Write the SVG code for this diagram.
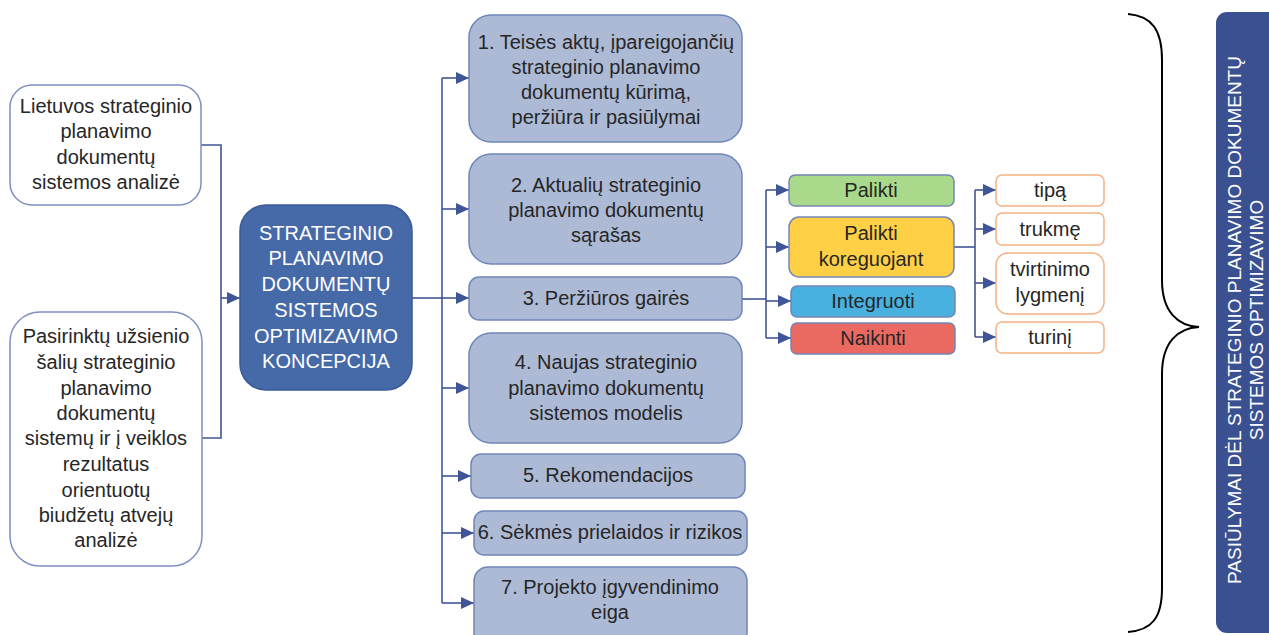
<svg xmlns="http://www.w3.org/2000/svg" width="1269" height="635" viewBox="0 0 1269 635">
<defs>
<marker id="ah" markerUnits="userSpaceOnUse" markerWidth="14" markerHeight="12" refX="13" refY="6" orient="auto">
<path d="M0,0 L13,6 L0,12 z" fill="#3f5597"/>
</marker>
<style>
text{font-family:"Liberation Sans",Arial,sans-serif;font-size:20px;fill:#262626;text-anchor:middle}
.src{fill:#fff;stroke:#7f8fc2;stroke-width:1.5}
.ctr{fill:#4669a8;stroke:#3b5b9a;stroke-width:1.5}
.ctr-t{fill:#fff}
.main{fill:#adbad6;stroke:#6f86b8;stroke-width:1.5}
.sm{stroke:#7486b5;stroke-width:1.5}
.or{fill:#fff;stroke:#f4b183;stroke-width:1.5}
.ln{fill:none;stroke:#3f5597;stroke-width:1.6}
.ar{fill:none;stroke:#3f5597;stroke-width:1.6;marker-end:url(#ah)}
.bt{fill:#fff;font-size:19px}
</style>
</defs>
<rect width="1269" height="635" fill="#fff"/>

<g id="connectors">
<path class="ln" d="M201,145 H221 V438 H202"/>
<path class="ar" d="M221,298 H240"/>
<path class="ln" d="M412,298 H442"/>
<path class="ln" d="M442,78 V603"/>
<path class="ar" d="M442,78 H469"/>
<path class="ar" d="M442,209 H469"/>
<path class="ar" d="M442,298 H469"/>
<path class="ar" d="M442,388 H469"/>
<path class="ar" d="M442,476 H471"/>
<path class="ar" d="M442,533 H474"/>
<path class="ar" d="M442,603 H474"/>
<path class="ln" d="M742,299 H766"/>
<path class="ln" d="M766,190 V338"/>
<path class="ar" d="M766,190 H789"/>
<path class="ar" d="M766,247 H789"/>
<path class="ar" d="M766,301 H791"/>
<path class="ar" d="M766,338 H791"/>
<path class="ln" d="M954,247 H975"/>
<path class="ln" d="M975,190 V337"/>
<path class="ar" d="M975,190 H996"/>
<path class="ar" d="M975,229 H996"/>
<path class="ar" d="M975,283 H996"/>
<path class="ar" d="M975,337 H996"/>
</g>

<g id="src1">
<rect class="src" x="10" y="85" width="191" height="120" rx="22"/>
<text x="106" y="113">Lietuvos strateginio</text>
<text x="106" y="138">planavimo</text>
<text x="106" y="164">dokumentų</text>
<text x="106" y="189">sistemos analizė</text>
</g>

<g id="src2">
<rect class="src" x="10" y="312" width="192" height="254" rx="30"/>
<text x="106" y="343">Pasirinktų užsienio</text>
<text x="106" y="369">šalių strateginio</text>
<text x="106" y="395">planavimo</text>
<text x="106" y="420">dokumentų</text>
<text x="106" y="445">sistemų ir į veiklos</text>
<text x="106" y="471">rezultatus</text>
<text x="106" y="497">orientuotų</text>
<text x="106" y="522">biudžetų atvejų</text>
<text x="106" y="547">analizė</text>
</g>

<g id="center">
<rect class="ctr" x="240" y="205" width="172" height="185" rx="26"/>
<text class="ctr-t" x="326" y="240">STRATEGINIO</text>
<text class="ctr-t" x="326" y="265">PLANAVIMO</text>
<text class="ctr-t" x="326" y="291">DOKUMENTŲ</text>
<text class="ctr-t" x="326" y="317">SISTEMOS</text>
<text class="ctr-t" x="326" y="343">OPTIMIZAVIMO</text>
<text class="ctr-t" x="326" y="368">KONCEPCIJA</text>
</g>

<g id="n1">
<rect class="main" x="469" y="15" width="273" height="127" rx="22"/>
<text x="606" y="49">1. Teisės aktų, įpareigojančių</text>
<text x="606" y="74">strateginio planavimo</text>
<text x="606" y="99">dokumentų kūrimą,</text>
<text x="606" y="124">peržiūra ir pasiūlymai</text>
</g>
<g id="n2">
<rect class="main" x="469" y="154" width="273" height="110" rx="22"/>
<text x="606" y="192">2. Aktualių strateginio</text>
<text x="606" y="217">planavimo dokumentų</text>
<text x="606" y="242">sąrašas</text>
</g>
<g id="n3">
<rect class="main" x="469" y="277" width="273" height="43" rx="10"/>
<text x="606" y="305">3. Peržiūros gairės</text>
</g>
<g id="n4">
<rect class="main" x="469" y="333" width="273" height="110" rx="22"/>
<text x="606" y="369">4. Naujas strateginio</text>
<text x="606" y="395">planavimo dokumentų</text>
<text x="606" y="420">sistemos modelis</text>
</g>
<g id="n5">
<rect class="main" x="471" y="454" width="274" height="44" rx="10"/>
<text x="608" y="482">5. Rekomendacijos</text>
</g>
<g id="n6">
<rect class="main" x="474" y="511" width="273" height="44" rx="10"/>
<text x="610" y="539">6. Sėkmės prielaidos ir rizikos</text>
</g>
<g id="n7">
<rect class="main" x="474" y="567" width="273" height="80" rx="14"/>
<text x="610" y="594">7. Projekto įgyvendinimo</text>
<text x="610" y="619">eiga</text>
</g>

<g id="palikti">
<rect class="sm" x="789" y="175" width="165" height="31" rx="6" fill="#a9d98a"/>
<text x="871" y="197">Palikti</text>
</g>
<g id="palikti-koreguojant">
<rect class="sm" x="789" y="217" width="165" height="60" rx="10" fill="#ffd045"/>
<text x="871" y="240">Palikti</text>
<text x="871" y="266">koreguojant</text>
</g>
<g id="integruoti">
<rect class="sm" x="791" y="286" width="164" height="31" rx="6" fill="#48b1e0"/>
<text x="873" y="308">Integruoti</text>
</g>
<g id="naikinti">
<rect class="sm" x="791" y="323" width="164" height="31" rx="6" fill="#ea6a62"/>
<text x="873" y="345">Naikinti</text>
</g>

<g id="tipa">
<rect class="or" x="996" y="175" width="108" height="31" rx="6"/>
<text x="1050" y="197">tipą</text>
</g>
<g id="trukme">
<rect class="or" x="996" y="213" width="108" height="32" rx="6"/>
<text x="1050" y="236">trukmę</text>
</g>
<g id="tvirtinimo">
<rect class="or" x="996" y="253" width="108" height="61" rx="12"/>
<text x="1050" y="276">tvirtinimo</text>
<text x="1050" y="302">lygmenį</text>
</g>
<g id="turini">
<rect class="or" x="996" y="322" width="108" height="31" rx="6"/>
<text x="1050" y="344">turinį</text>
</g>

<g id="brace">
<path d="M1128,14 C1152,16 1162,30 1162,60 V280 C1162,312 1178,326 1199,327 C1178,328 1162,342 1162,374 V588 C1162,618 1152,630 1128,632" fill="none" stroke="#000" stroke-width="2"/>
</g>

<g id="banner">
<rect x="1216" y="12" width="70" height="621" rx="11" fill="#3a5090"/>
<text class="bt" transform="translate(1241,320) rotate(-90)">PASIŪLYMAI DĖL STRATEGINIO PLANAVIMO DOKUMENTŲ</text>
<text class="bt" transform="translate(1263,320) rotate(-90)">SISTEMOS OPTIMIZAVIMO</text>
</g>
</svg>
